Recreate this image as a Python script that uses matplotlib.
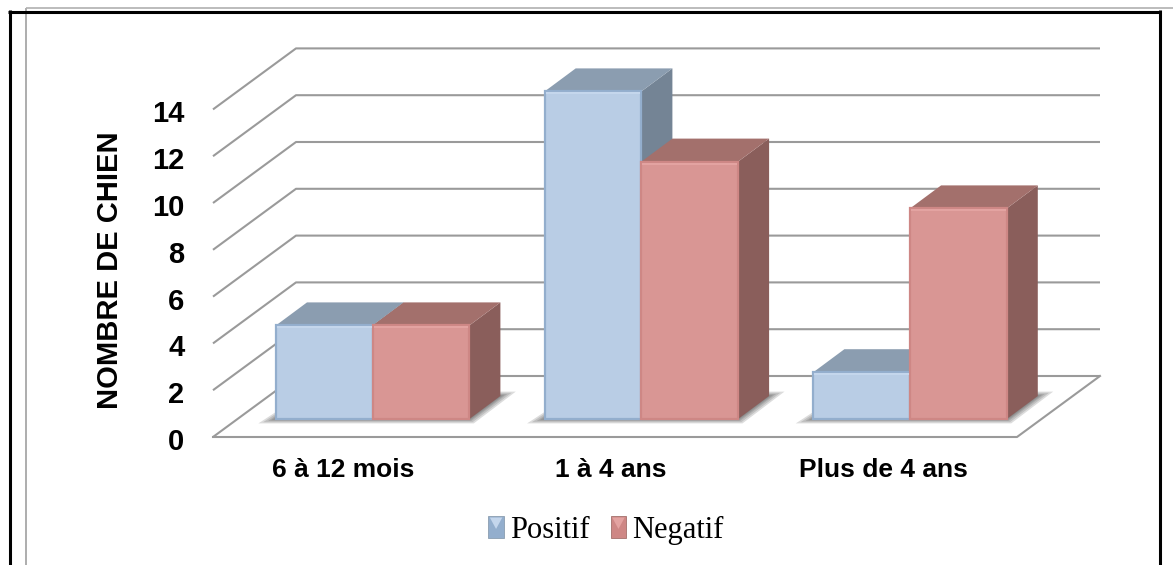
import matplotlib
matplotlib.use('Agg')
import matplotlib.pyplot as plt
from matplotlib.lines import Line2D
from matplotlib.patches import Polygon, Rectangle
from matplotlib.transforms import ScaledTranslation

# data
categories = ['6 à 12 mois', '1 à 4 ans', 'Plus de 4 ans']
positif = [4, 14, 2]
negatif = [4, 11, 9]
y_ticks = [0, 2, 4, 6, 8, 10, 12, 14]
series_names = ['Positif', 'Negatif']

# figure size in pixels
W, H = 1173, 565

# colours: front, top, side, edge, highlight
BLUE = ('#B9CDE5', '#8B9DB0', '#748495', '#93AECD', '#C4D6EC')
RED = ('#D99694', '#A3706C', '#8A5E5B', '#CE8785', '#E3A3A1')
GRID = '#9A9A9A'

# px -> data scales of the chart axes
PX_X = 1 / 268
PX_Y = 1 / 23.4

# 3d look
WALL_DX, WALL_DY = 83 * PX_X, 61 * PX_Y
BASE_DX, BASE_DY = 29 * PX_X, 18 * PX_Y
BAR_DX, BAR_DY = 31 * PX_X, 23 * PX_Y
BAR_W = 96.7 * PX_X


def draw_shadow(ax, x0, x1):
    y0 = BASE_DY
    # a few stacked soft layers on the floor
    for grow in [11, 8, 5, 3, 1]:
        gx = grow * PX_X
        gy = grow * PX_Y * 0.4
        pts = [(x0 - gx * 1.6, y0 - gy),
               (x1 + gx * 0.4, y0 - gy),
               (x1 + BAR_DX + gx * 1.4, y0 + BAR_DY + gy),
               (x0 + BAR_DX, y0 + BAR_DY + gy)]
        ax.add_patch(Polygon(pts, closed=True, fc='#505050', ec='none', alpha=0.2, zorder=2, clip_on=False))


def draw_bar(ax, x, value, colors):
    front, top, side, edge, light = colors
    y0 = BASE_DY
    y1 = y0 + value
    ax.add_patch(Polygon([(x + BAR_W, y0), (x + BAR_W + BAR_DX, y0 + BAR_DY),
                          (x + BAR_W + BAR_DX, y1 + BAR_DY), (x + BAR_W, y1)],
                         closed=True, fc=side, ec='none', zorder=3, clip_on=False))
    ax.add_patch(Polygon([(x, y1), (x + BAR_DX, y1 + BAR_DY),
                          (x + BAR_W + BAR_DX, y1 + BAR_DY), (x + BAR_W, y1)],
                         closed=True, fc=top, ec='none', zorder=3, clip_on=False))
    ax.add_patch(Rectangle((x, y0), BAR_W, value, fc=front, ec=edge, lw=1.6, zorder=4, clip_on=False))
    # bevel highlight along the upper edge of the front
    ax.plot([x + 2 * PX_X, x + BAR_W - 2 * PX_X], [y1 - 2 * PX_Y, y1 - 2 * PX_Y],
            color=light, lw=1.5, zorder=5, clip_on=False)


class BevelHandler:
    # legend swatch: small square with a pale top and darker sides
    def __init__(self, colors):
        self.colors = colors

    def legend_artist(self, legend, orig_handle, fontsize, handlebox):
        front, top, side, edge, light = self.colors
        x0, y0 = handlebox.xdescent, handlebox.ydescent
        w, h = handlebox.width, handlebox.height
        tf = handlebox.get_transform()
        handlebox.add_artist(Rectangle((x0, y0), w, h, fc=edge, ec=top, lw=0.6, transform=tf))
        handlebox.add_artist(Polygon([(x0 + 1, y0 + h - 1), (x0 + w - 1, y0 + h - 1), (x0 + w / 2, y0 + h * 0.4)],
                                     closed=True, fc=light, ec='none', transform=tf))
        return handlebox


fig = plt.figure(figsize=(W / 100, H / 100), dpi=100)
ax = fig.add_axes([213 / W, 1 - 437 / H, 804 / W, 14 * 23.4 / H])
ax.set_xlim(0, 3)
ax.set_ylim(0, 14)
for s in ax.spines.values():
    s.set_visible(False)
ax.patch.set_visible(False)

# walls and floor
for v in y_ticks:
    ax.plot([0, WALL_DX, 3 + WALL_DX], [v, v + WALL_DY, v + WALL_DY], color=GRID, lw=1.5,
            clip_on=False, zorder=1, solid_capstyle='butt')
ax.plot([0, 3, 3 + WALL_DX], [0, 0, WALL_DY], color=GRID, lw=1.5, clip_on=False, zorder=1)

# bars
for i in range(len(categories)):
    x = i * 1.0026 + BASE_DX + 34 * PX_X
    draw_shadow(ax, x, x + 2 * BAR_W)
    draw_bar(ax, x, positif[i], BLUE)
    draw_bar(ax, x + BAR_W, negatif[i], RED)

# axis text
ax.set_yticks(y_ticks)
ax.set_yticklabels([str(v) for v in y_ticks], fontfamily='Liberation Sans', fontweight='bold', fontsize=21)
ax.tick_params(axis='y', length=0, pad=20.5)
for lab in ax.get_yticklabels():
    lab.set_transform(lab.get_transform() + ScaledTranslation(0, -2 / 100, fig.dpi_scale_trans))
ax.set_xticks([0.485, 1.485, 2.5])
ax.set_xticklabels(categories, fontfamily='Liberation Sans', fontweight='bold', fontsize=19)
ax.tick_params(axis='x', length=0, pad=15)
ax.set_ylabel('NOMBRE DE CHIEN', fontfamily='Liberation Sans', fontweight='bold', fontsize=21, va='center')
ax.yaxis.set_label_coords(-103 / 804, (437 - 270.5) / (14 * 23.4))

# legend
h_pos = Rectangle((0, 0), 1, 1)
h_neg = Rectangle((0, 0), 1, 1)
fig.legend([h_pos, h_neg], series_names, handler_map={h_pos: BevelHandler(BLUE), h_neg: BevelHandler(RED)},
           loc='center', bbox_to_anchor=(606 / W, 1 - 530 / H), ncol=2, frameon=False,
           prop={'family': 'Liberation Serif', 'size': 22}, handlelength=0.5, handleheight=0.7,
           handletextpad=0.2, columnspacing=0.7, borderpad=0)

# page border
def page_line(xs, ys, color, lw):
    fig.add_artist(Line2D([x / W for x in xs], [1 - y / H for y in ys], color=color, lw=lw,
                          solid_capstyle='butt'))

page_line([26, 26], [8, H], '#A0A0A0', 1.2)
page_line([26, W], [8, 8], '#B0B0B0', 1.2)
page_line([9.5, 9.5], [10, H], 'black', 2.2)
page_line([8, 1161], [11.5, 11.5], 'black', 2.2)
page_line([1159.5, 1159.5], [10, H], 'black', 2.2)

fig.savefig('out.png', dpi=100)
